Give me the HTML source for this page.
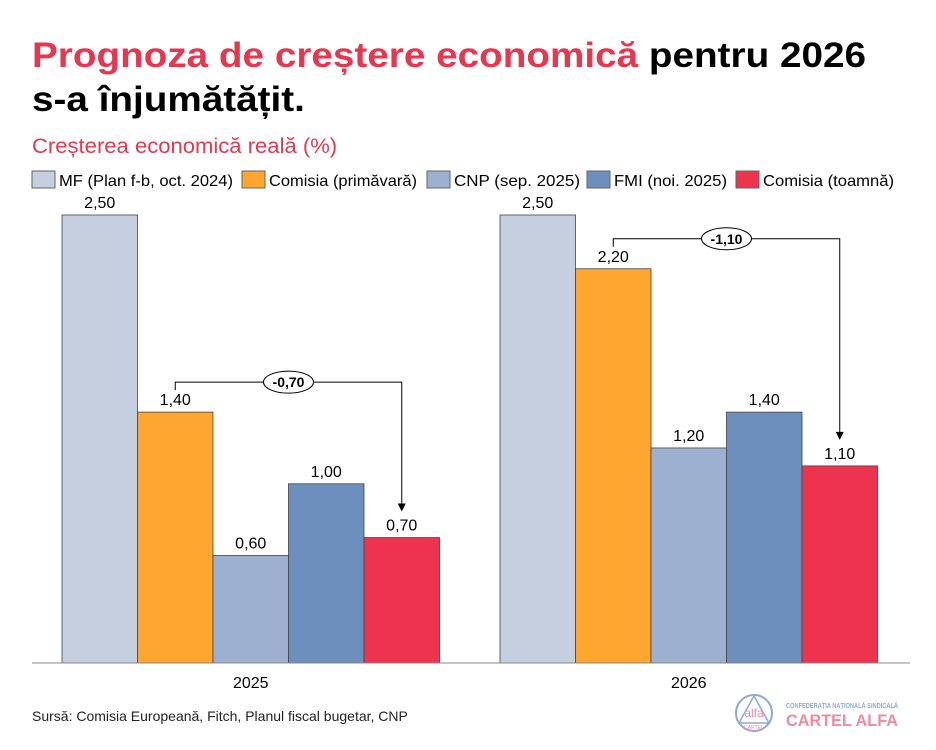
<!DOCTYPE html>
<html><head><meta charset="utf-8"><style>
body{margin:0;width:936px;height:750px;background:#fff;font-family:"Liberation Sans",Arial,sans-serif;overflow:hidden;position:relative}
.t{position:absolute;left:32px;top:34px;font-size:35px;font-weight:bold;line-height:44px;color:#000;transform:scaleX(1.105);transform-origin:0 0;white-space:nowrap}
.t span{color:#e8364f}
.sub{position:absolute;left:32px;top:135px;font-size:21px;color:#e8364f;transform:scaleX(1.05);transform-origin:0 0}
.src{position:absolute;left:32px;top:708px;font-size:14px;color:#222}
</style></head><body>
<div class="t"><span>Prognoza de creștere economică</span> pentru 2026<br>s-a înjumătățit.</div>
<div class="sub">Creșterea economică reală (%)</div>
<div class="src">Sursă: Comisia Europeană, Fitch, Planul fiscal bugetar, CNP</div>
<svg id="c" width="936" height="750" style="position:absolute;left:0;top:0"></svg>
<script>
const years=["2025","2026"];
const seriesNames=["MF (Plan f-b, oct. 2024)","Comisia (primăvară)","CNP (sep. 2025)","FMI (noi. 2025)","Comisia (toamnă)"];
const v2025=[2.5,1.4,0.6,1.0,0.7];
const v2026=[2.5,2.2,1.2,1.4,1.1];
const diffs=["-0,70","-1,10"];
const colors=["#c5cfe0","#ffa630","#9eb0cf","#6d8fbd","#ee334e"];
const NS="http://www.w3.org/2000/svg",svg=document.getElementById('c');
function mk(t,a,p){const e=document.createElementNS(NS,t);for(const k in a)e.setAttribute(k,a[k]);(p||svg).appendChild(e);return e;}
const base=663,scale=179.2;
function y(v){return base-v*scale;}
const groupX=[62,500],bw=75.5;
function x(g,i){return groupX[g]+i*bw;}
const legX=[32,242,427,587,736];
const legW=[174,148,126,113,131];
seriesNames.forEach((n,i)=>{
 const r=mk('rect',{x:legX[i],y:171,width:23,height:17,fill:colors[i],stroke:'#666','stroke-width':1});
 
 
 const t=mk('text',{x:legX[i]+27,y:186,'font-size':16,fill:'#000',textLength:legW[i],lengthAdjust:'spacingAndGlyphs'});t.textContent=n;
 
 
});
[v2025,v2026].forEach((vals,g)=>{
 vals.forEach((v,i)=>{
  const r=mk('rect',{x:x(g,i),y:y(v),width:bw,height:v*scale,fill:colors[i],stroke:'#444','stroke-width':0.8});
  
  
  const t=mk('text',{x:x(g,i)+bw/2,y:y(v)-7,'font-size':16,'text-anchor':'middle'});t.textContent=v.toFixed(2).replace('.',',');
  
  
 });
 const t=mk('text',{x:groupX[g]+bw*2.5,y:688,'font-size':16,'text-anchor':'middle'});t.textContent=years[g];
 
 
 const x1=x(g,1)+bw/2, x2=x(g,4)+bw/2, ly=y(vals[1])-30;
 const p=mk('path',{d:`M${x1} ${ly+8}V${ly}H${x2}V${y(vals[4])-33}`,fill:'none',stroke:'#000','stroke-width':1});
 
 
 const ty=y(vals[4])-26;
 mk('path',{d:`M${x2-4} ${ty-8}L${x2+4} ${ty-8}L${x2} ${ty}Z`,fill:'#000'});
 const cx=(x1+x2)/2;
 const el=mk('ellipse',{cx:cx,cy:ly,rx:25,ry:11,fill:'#fff',stroke:'#000','stroke-width':1});
 
 
 const dt=mk('text',{x:cx,y:ly+5,'font-size':14,'font-weight':'bold','text-anchor':'middle'});dt.textContent=diffs[g];
 
 
});
const ax=mk('line',{x1:32,x2:910,y1:base,y2:base,stroke:'#888','stroke-width':1});


const lg=mk('g',{});


mk('circle',{cx:754,cy:713,r:18,fill:'none',stroke:'#8fa9d6','stroke-width':2},lg);
mk('path',{d:'M754 696L739 723H769Z',fill:'none',stroke:'#8fa9d6','stroke-width':1.5},lg);
const a=mk('text',{x:754,y:717,'font-size':12,'text-anchor':'middle',fill:'#f08aa0'},lg);a.textContent='alfa';
const a2=mk('text',{x:754,y:729,'font-size':5,'text-anchor':'middle',fill:'#f08aa0'},lg);a2.textContent='CARTEL';
const l1=mk('text',{x:786,y:708,'font-size':7.5,'font-weight':'bold',fill:'#8fa9d6',textLength:112,lengthAdjust:'spacingAndGlyphs'},lg);l1.textContent='CONFEDERAȚIA NAȚIONALĂ SINDICALĂ';
const l2=mk('text',{x:786,y:726,'font-size':17,'font-weight':'bold',fill:'#f08aa0',textLength:112,lengthAdjust:'spacingAndGlyphs'},lg);l2.textContent='CARTEL ALFA';
</script>
</body></html>
